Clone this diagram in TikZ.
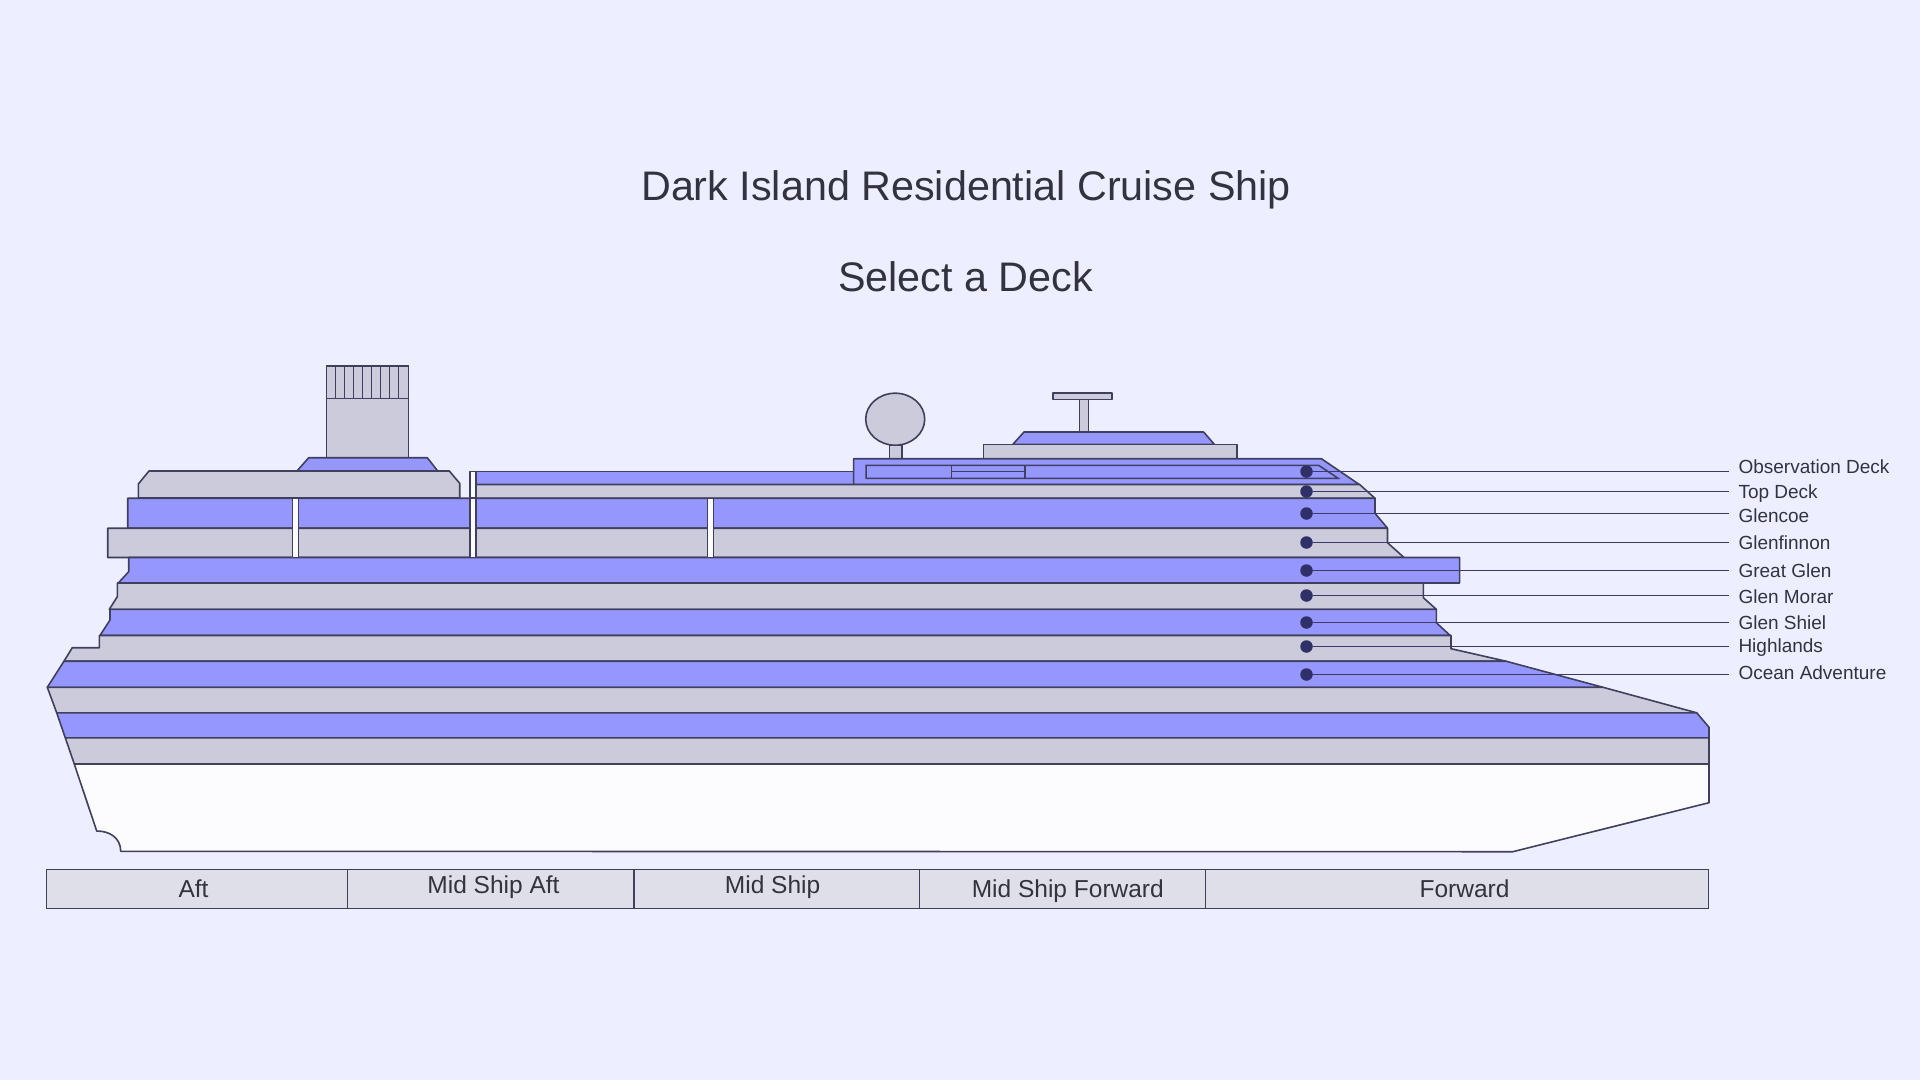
\documentclass[tikz,border=0pt]{standalone}
\usepackage{xcolor}
\usepackage{fontspec}
\setmainfont{Liberation Sans}
\definecolor{pagebg}{HTML}{EDEEFF}
\definecolor{deckblue}{HTML}{9696FF}
\definecolor{deckgrey}{HTML}{CBCBDB}
\definecolor{hullwhite}{HTML}{FCFCFF}
\definecolor{barfill}{HTML}{DFDFE9}
\definecolor{linecol}{HTML}{40405E}
\definecolor{dotcol}{HTML}{2F3068}
\definecolor{leadcol}{HTML}{3A3A6C}
\definecolor{textcol}{HTML}{333340}
\tikzset{
	blue deck/.style={draw=linecol,fill=deckblue,line width=1.6,line join=round},
	grey deck/.style={draw=linecol,fill=deckgrey,line width=1.6,line join=round},
	white part/.style={draw=linecol,fill=hullwhite,line width=1.6,line join=round},
	bar cell/.style={draw=linecol,fill=barfill,line width=1.6},
	deck dot/.style={circle,fill=dotcol,inner sep=0,minimum size=12.5},
	leader/.style={draw=leadcol,line width=1.5},
	deck label/.style={anchor=base west,inner sep=0,font=\fontsize{19}{19}\selectfont,text=textcol},
	bar label/.style={anchor=base,inner sep=0,font=\fontsize{24.5}{25}\selectfont,text=textcol},
	title text/.style={anchor=base,inner sep=0,font=\fontsize{41.3}{42}\selectfont,text=textcol}
}
\begin{document}
\begin{tikzpicture}[x=1pt,y=-1pt]
\useasboundingbox (0,0) rectangle (1920,1080);
\fill[pagebg] (0,0) rectangle (1920,1080);

\node[title text] (title) at (966,200) {Dark Island Residential Cruise Ship};
\node[title text] (subtitle) at (965.5,291) {Select a Deck};

% funnel
\draw[grey deck] (326.5,366) rectangle (408.5,457.7);
\draw[grey deck] (326.5,366) rectangle (408.5,398.5);
\foreach \a in {1,...,8}{
	\draw[linecol,line width=1.4] (326.5+9*\a,366)--(326.5+9*\a,398.5);
}
\draw[blue deck] (297,471)--(308.7,457.7)--(427.3,457.7)--(437.7,471)--cycle;
\draw[grey deck] (138.3,498)--(138.3,484)--(149,471)--(449.3,471)--(459.7,483.3)--(459.7,498)--cycle;

% radar and mast
\draw[grey deck] (889.3,445)rectangle(901.8,458.7);
\draw[grey deck] (895.2,419.2) ellipse (29.5 and 26);
\draw[grey deck] (1079.6,399.3) rectangle (1088.6,432);
\draw[grey deck] (1053.2,392.7) rectangle (1111.8,399.3);
\draw[blue deck] (1012.9,444.3)--(1024,432)--(1203.6,432)--(1214.3,444.3)--cycle;
\draw[grey deck] (983.6,444.3) rectangle (1237,458.7);

% upper decks
\draw[blue deck] (475.7,471.3) rectangle (853.6,484.5);
\draw[blue deck] (853.6,484.7)--(853.6,458.7)--(1321.4,458.7)--(1359.6,484.7)--cycle;
\draw[linecol,line width=1.5] (866,465.3)--(1318.6,465.3)--(1338.2,478.3)--(866,478.3)--cycle;
\draw[linecol,line width=1.5] (951.4,465.3)--(951.4,478.3);
\draw[linecol,line width=1.5] (1025,465.3)--(1025,478.3);
\draw[linecol,line width=1.5] (951.4,471.5)--(1025,471.5);
\draw[grey deck] (475.7,484.5)--(1359.6,484.5)--(1375,498.3)--(475.7,498.3)--cycle;

% main decks, top to bottom
\draw[blue deck] (127.7,498.2)--(1375,498.2)--(1375,513.3)--(1387.5,528.2)--(127.7,528.2)--cycle;
\draw[grey deck] (107.7,528.2)--(1387.5,528.2)--(1387.5,542.7)--(1404,557.5)--(107.7,557.5)--cycle;
\draw[blue deck] (128.7,557.5)--(1459.6,557.5)--(1459.6,583)--(118.3,583)--(128.7,571.7)--cycle;
\draw[grey deck] (117.3,583)--(1423.3,583)--(1423.3,597.7)--(1436.3,609.3)--(109.3,609.3)--(117.3,596.7)--cycle;
\draw[blue deck] (110,609.3)--(1436.3,609.3)--(1436.3,622.7)--(1450.2,635.5)--(100,635.5)--(110,620)--cycle;
\draw[grey deck] (99.3,635.5)--(1451,635.5)--(1451,648.7)--(1506,661.2)--(64,661.2)--(72.3,647.7)--(99.3,647.7)--cycle;
\draw[blue deck] (64,661.2)--(1506,661.2)--(1603,687.3)--(47.3,687.3)--cycle;
\draw[grey deck] (47.3,687.3)--(1603,687.3)--(1696.7,712.8)--(56.7,712.8)--cycle;
\draw[blue deck] (56.7,712.8)--(1696.7,712.8)--(1709,727.3)--(1709,737.8)--(65.3,737.8)--cycle;
\draw[grey deck] (65.3,737.8)--(1709,737.8)--(1709,764)--(74.3,764)--cycle;
\draw[white part] (74.3,764)--(1709,764)--(1709,802.7)--(1512.7,851.7)--(120.7,851.3)
	.. controls (120.7,838) and (110,831) .. (96.7,831)--cycle;

% white posts
\foreach \a/\b in {292.3/498,469.7/471.3,707.3/498.3}{
	\draw[white part] (\a,\b) rectangle (\a+6,557.5);
}
\draw[linecol,line width=1.6] (469.7,498.2)--(475.7,498.2);

% position bar
\foreach \a/\b in {46.3/347.3,347.3/633.7,633.7/919.6,919.6/1205.5,1205.5/1708.3}{
	\draw[bar cell] (\a,869.3) rectangle (\b,908.3);
}
\foreach \n/\a/\b/\t in {aft/193.5/897/Aft,midaft/493.5/893/Mid Ship Aft,mid/772.6/893/Mid Ship,midfwd/1067.8/897/Mid Ship Forward,fwd/1464.5/897/Forward}{
	\node[bar label] (\n) at (\a,\b) {\t};
}

% deck picker
\foreach \n/\a/\b/\t in {obs/471.5/473.5/Observation Deck,top/491.5/498.5/Top Deck,glencoe/513.5/522.5/Glencoe,glenfinnon/542.5/549.5/Glenfinnon,great/570.5/577.5/Great Glen,morar/595.5/603.5/Glen Morar,shiel/622.5/629.5/Glen Shiel,high/646.5/652.5/Highlands,ocean/674.5/679/Ocean Adventure}{
	\node[deck dot] (dot\n) at (1306.5,\a) {};
	\coordinate (end\n) at (1729,\a);
	\draw[leader] (dot\n)--(end\n);
	\node[deck label] (label\n) at (1738.3,\b) {\t};
}

\end{tikzpicture}
\end{document}
